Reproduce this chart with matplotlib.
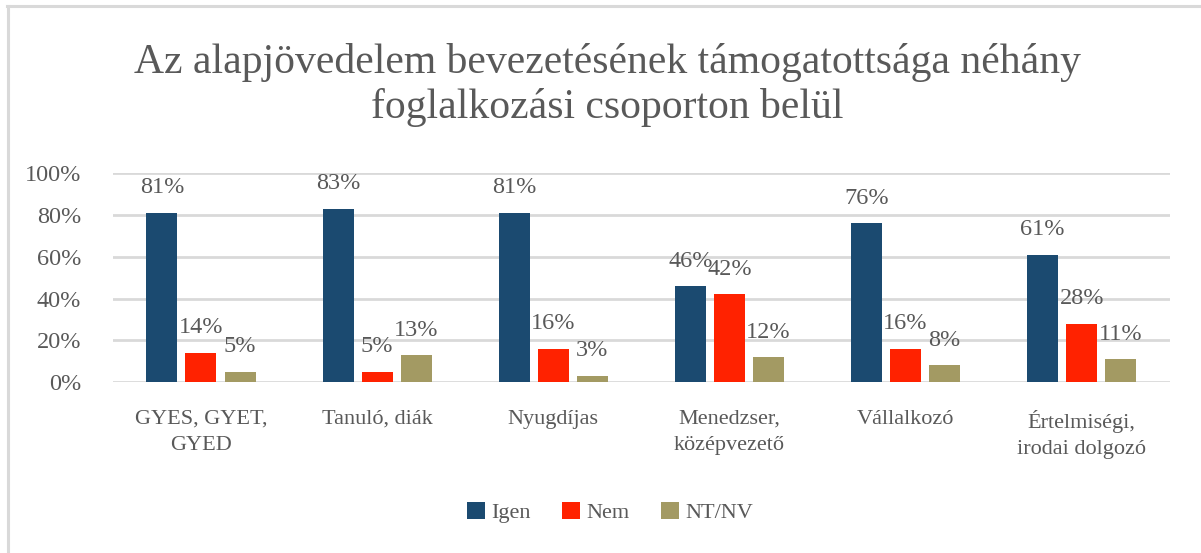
import numpy as np
import matplotlib
matplotlib.use('Agg')
import matplotlib.pyplot as plt
from matplotlib.lines import Line2D

categories = ['GYES, GYET,\nGYED', 'Tanuló, diák', 'Nyugdíjas',
              'Menedzser,\nközépvezető', 'Vállalkozó', 'Értelmiségi,\nirodai dolgozó']
igen = [81, 83, 81, 46, 76, 61]
nem = [14, 5, 16, 42, 16, 28]
ntnv = [5, 13, 3, 12, 8, 11]
series = [('Igen', igen, '#1b4a70'), ('Nem', nem, '#ff2200'), ('NT/NV', ntnv, '#a39a63')]

plt.rcParams['font.family'] = ['Liberation Serif', 'DejaVu Serif']
txt = '#595959'

fig = plt.figure(figsize=(12.01, 5.53), dpi=100)
ax = fig.add_axes([0.094, 0.309, 0.880, 0.378])

x = np.arange(len(categories))
step = 0.222
width = 0.176
for i, (name, vals, col) in enumerate(series):
    pos = x + (i - 1) * step
    bars = ax.bar(pos, np.array(vals) / 100, width, color=col, label=name, zorder=3)
    for b, v in zip(bars, vals):
        ax.annotate(f'{v}%', (b.get_x() + b.get_width() / 2, b.get_height()),
                    xytext=(0, 14), textcoords='offset points', ha='center', va='baseline',
                    fontsize=17.5, color=txt)

ax.set_xlim(-0.5, len(categories) - 0.5)
ax.set_ylim(0, 1)
ax.set_yticks(np.arange(0, 1.01, 0.2))
ax.set_yticklabels([f'{int(round(t * 100))}%' for t in np.arange(0, 1.01, 0.2)], fontsize=17.5)
ax.set_xticks(x)
ax.set_xticklabels(categories, linespacing=1.5, fontsize=16)
ax.tick_params(axis='both', length=0, labelcolor=txt)
ax.tick_params(axis='x', pad=20)
ax.tick_params(axis='y', pad=23)
ax.grid(axis='y', color='#d9d9d9', linewidth=2, zorder=0)
for s in ax.spines.values():
    s.set_visible(False)

fig.suptitle('Az alapjövedelem bevezetésének támogatottsága néhány\nfoglalkozási csoporton belül',
             x=0.506, y=0.922, fontsize=30, color=txt, linespacing=1.2)

leg = fig.legend(loc='center', bbox_to_anchor=(0.508, 0.073), ncol=3, frameon=False,
                 fontsize=16, handlelength=0.8, handleheight=0.8, handletextpad=0.3,
                 columnspacing=1.4)
for t in leg.get_texts():
    t.set_color(txt)

fig.add_artist(Line2D([0.006, 1.0], [0.989, 0.989], transform=fig.transFigure, color='#d9d9d9', linewidth=2.2))
fig.add_artist(Line2D([0.0065, 0.0065], [0.0, 0.989], transform=fig.transFigure, color='#d9d9d9', linewidth=2.2))

fig.savefig('out.png', dpi=100)
